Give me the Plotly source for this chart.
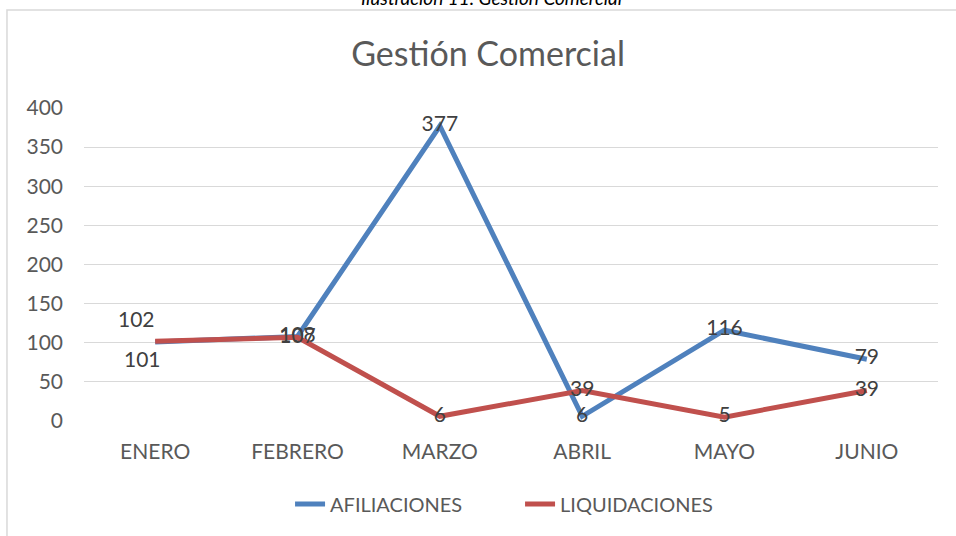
import plotly.graph_objects as go

meses = ["ENERO", "FEBRERO", "MARZO", "ABRIL", "MAYO", "JUNIO"]
afiliaciones = [101, 108, 377, 6, 116, 79]
liquidaciones = [102, 107, 6, 39, 5, 39]

FONT = "Lato, Calibri, sans-serif"
AZUL = "#4F81BD"
ROJO = "#C0504D"
LABEL_FONT = dict(size=21, color="#404040", family=FONT)

fig = go.Figure()
# las etiquetas de ENERO se colocan aparte (desplazadas) para que no choquen
fig.add_trace(go.Scatter(
    x=meses, y=afiliaciones, name="AFILIACIONES",
    mode="lines+text", text=[""] + [str(v) for v in afiliaciones[1:]],
    textposition="middle center", textfont=LABEL_FONT,
    line=dict(color=AZUL, width=5),
    cliponaxis=False,
))
fig.add_trace(go.Scatter(
    x=meses, y=liquidaciones, name="LIQUIDACIONES",
    mode="lines+text", text=[""] + [str(v) for v in liquidaciones[1:]],
    textposition="middle center", textfont=LABEL_FONT,
    line=dict(color=ROJO, width=5),
    cliponaxis=False,
))
fig.add_annotation(x=meses[0], y=afiliaciones[0], text=str(afiliaciones[0]),
                   showarrow=False, xshift=-13, yshift=-17, font=LABEL_FONT)
fig.add_annotation(x=meses[0], y=liquidaciones[0], text=str(liquidaciones[0]),
                   showarrow=False, xshift=-19, yshift=23, font=LABEL_FONT)

fig.update_layout(
    width=956, height=536,
    margin=dict(l=84, r=18, t=108, b=115),
    paper_bgcolor="white", plot_bgcolor="white",
    font=dict(family=FONT, color="#595959"),
    title=dict(text="Gestión Comercial", x=0.5105, xanchor="center",
               y=0.9, yanchor="middle",
               font=dict(size=34, color="#595959", family=FONT)),
    legend=dict(orientation="h", x=0.5106, xanchor="center", y=-0.265, yanchor="middle",
                entrywidth=185, entrywidthmode="pixels",
                font=dict(size=20, color="#595959", family=FONT)),
    showlegend=True,
)
fig.update_xaxes(type="category", range=[-0.5, 5.5], showgrid=False, showline=False,
                 ticks="", ticklabelstandoff=16, tickfont=dict(size=21, color="#595959"))
fig.update_yaxes(range=[0, 400], dtick=50, showgrid=True, gridcolor="#D9D9D9",
                 gridwidth=1.3, zeroline=False, showline=False, ticks="",
                 ticklabelstandoff=20, tickfont=dict(size=21, color="#595959"))

# marco del grafico
fig.add_shape(type="rect", xref="paper", yref="paper",
              x0=-0.0902, x1=1.03, y0=-0.40, y1=1.313,
              line=dict(color="#D9D9D9", width=1.5), layer="below")
# pie de ilustracion (recortado arriba)
fig.add_annotation(text="<i>Ilustración 11. Gestión Comercial</i>", xref="paper", yref="paper",
                   x=0.4766, y=1.352, xanchor="center", yanchor="middle", showarrow=False,
                   font=dict(size=19, color="#000000", family=FONT))

fig.write_html("out.html", config={"displayModeBar": False},
               post_script="document.body.style.margin='0';")
